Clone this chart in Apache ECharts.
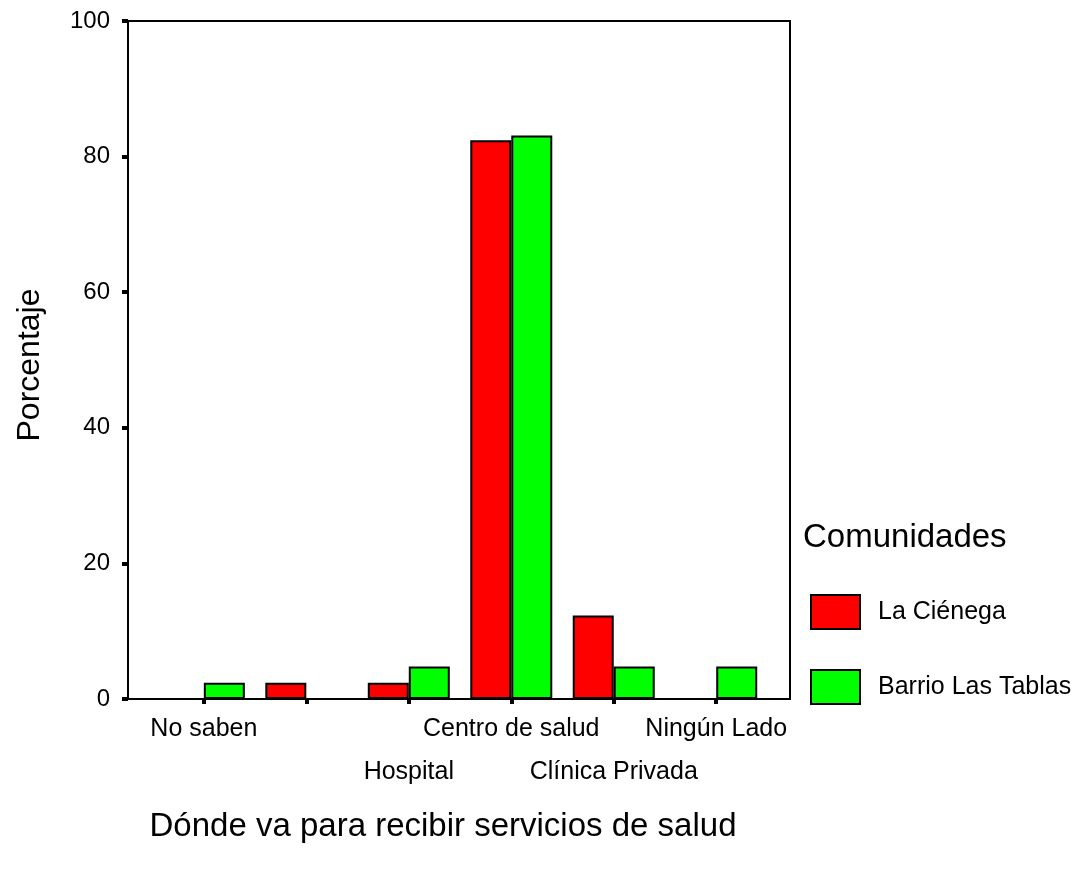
<!DOCTYPE html>
<html>
<head>
<meta charset="utf-8">
<script src="https://cdn.jsdelivr.net/npm/echarts@6/dist/echarts.min.js"></script>
<style>
html,body{margin:0;padding:0;background:#fff;}
#chart{width:1085px;height:871px;}
</style>
</head>
<body>
<div id="chart"></div>
<script>
// ---- data ----
const categories = ['No saben', '', 'Hospital', 'Centro de salud', 'Clínica Privada', 'Ningún Lado'];
const labelRow = [1, 2, 2, 1, 2, 1];
const seriesNames = ['La Ciénega', 'Barrio Las Tablas'];
const laCienega = [null, 2.4, 2.4, 82.4, 12.3, null];
const barrioLasTablas = [2.4, null, 4.8, 83.1, 4.8, 4.8];
const yTicks = [0, 20, 40, 60, 80, 100];
const yAxisTitle = 'Porcentaje';
const xAxisTitle = 'Dónde va para recibir servicios de salud';
const legendTitle = 'Comunidades';

const FONT = "'Liberation Sans', Arial, sans-serif";
const positions = categories.map((c, i) => i + 1);
const row1Pos = positions.filter((p, i) => labelRow[i] === 1);
const row2Pos = positions.filter((p, i) => labelRow[i] === 2);
function toPoints(arr) {
  return arr.map((v, i) => [i + 1, v === null ? '-' : v]);
}
function catLabel(v) {
  return categories[Math.round(v) - 1] || '';
}

const chart = echarts.init(document.getElementById('chart'));
const labelBase = { fontFamily: FONT, fontSize: 25, color: '#000', formatter: catLabel,
  showMinLabel: true, showMaxLabel: true, hideOverlap: false };
chart.setOption({
  backgroundColor: '#ffffff',
  animation: false,
  textStyle: { fontFamily: FONT },
  grid: {
    left: 128, top: 21, right: 295, bottom: 172,
    show: true, borderColor: '#000', borderWidth: 2, containLabel: false
  },
  title: {
    text: legendTitle, left: 803, top: 521,
    textStyle: { fontFamily: FONT, fontSize: 33, fontWeight: 'normal', color: '#000' },
    padding: 0
  },
  legend: {
    orient: 'vertical', left: 810, top: 594, padding: 0,
    itemWidth: 49, itemHeight: 34, itemGap: 39,
    icon: 'rect',
    data: seriesNames,
    textStyle: { fontFamily: FONT, fontSize: 25, color: '#000', padding: [2, 0, 0, 13] }
  },
  xAxis: [
    {
      type: 'value', position: 'bottom',
      min: 0.26, max: 6.72,
      splitLine: { show: false },
      axisLine: { show: true, onZero: false, lineStyle: { color: '#000', width: 2 } },
      axisTick: { show: true, length: 5, customValues: positions, lineStyle: { color: '#000', width: 4 } },
      axisLabel: Object.assign({ customValues: row1Pos, margin: 18 }, labelBase)
    },
    {
      type: 'value', position: 'bottom', offset: 0,
      min: 0.26, max: 6.72,
      splitLine: { show: false },
      axisLine: { show: false },
      axisTick: { show: false },
      axisLabel: Object.assign({ customValues: row2Pos, margin: 61 }, labelBase)
    }
  ],
  yAxis: {
    type: 'value',
    min: 0, max: 100, interval: 20,
    splitLine: { show: false },
    axisLine: { show: true, lineStyle: { color: '#000', width: 2 } },
    axisTick: { show: true, length: 6, lineStyle: { color: '#000', width: 4 } },
    axisLabel: {
      margin: 18, fontFamily: FONT, fontSize: 24, color: '#000',
      formatter: function (v) { return yTicks.indexOf(v) >= 0 ? String(v) : ''; }
    }
  },
  graphic: [
    {
      type: 'text', x: 30, y: 365, rotation: Math.PI / 2,
      style: { text: yAxisTitle, fontFamily: FONT, fontSize: 32, fill: '#000', align: 'center', verticalAlign: 'middle' }
    },
    {
      type: 'text', x: 443, y: 827,
      style: { text: xAxisTitle, fontFamily: FONT, fontSize: 33, fill: '#000', align: 'center', verticalAlign: 'middle' }
    }
  ],
  series: [
    {
      name: seriesNames[0], type: 'bar', xAxisIndex: 0, data: toPoints(laCienega),
      barWidth: 41, barGap: '0%',
      itemStyle: { color: '#ff0000', borderColor: '#000', borderWidth: 2 }
    },
    {
      name: seriesNames[1], type: 'bar', xAxisIndex: 0, data: toPoints(barrioLasTablas),
      barWidth: 41, barGap: '0%',
      itemStyle: { color: '#00ff00', borderColor: '#000', borderWidth: 2 }
    }
  ]
});
</script>
</body>
</html>
